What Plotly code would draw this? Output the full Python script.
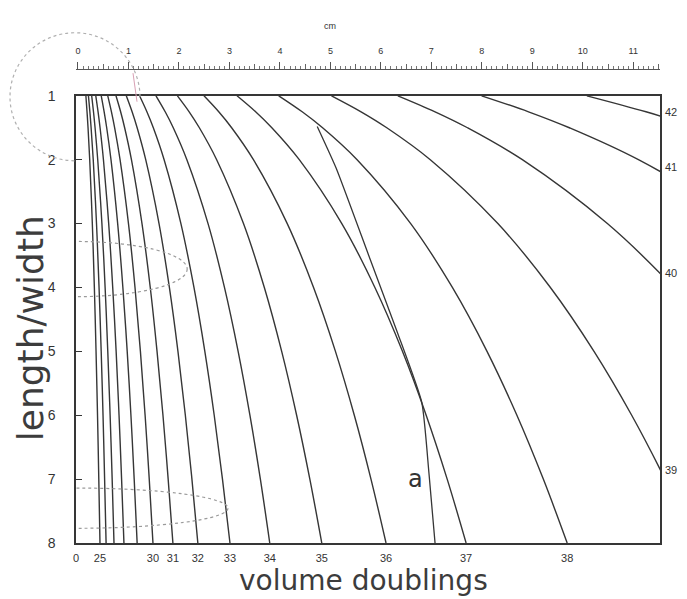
import plotly.graph_objects as go

# ---------------- data ----------------
# length/width ratio at which each curve is sampled
ratio_samples = [1, 1.25, 1.5, 2, 3, 4, 5, 6, 7, 8]

# iso-doubling curves: tumour length (cm) at each ratio sample
doublings = [25, 26, 27, 28, 29, 30, 31, 32, 33, 34, 35, 36, 37, 38, 39, 40, 41, 42]
curve_cm = [
    [0.194, 0.216, 0.236, 0.269, 0.320, 0.360, 0.393, 0.422, 0.447, 0.470],
    [0.244, 0.272, 0.296, 0.338, 0.402, 0.452, 0.494, 0.530, 0.561, 0.590],
    [0.308, 0.343, 0.374, 0.426, 0.508, 0.571, 0.623, 0.669, 0.709, 0.745],
    [0.388, 0.433, 0.472, 0.538, 0.641, 0.720, 0.787, 0.844, 0.894, 0.940],
    [0.495, 0.552, 0.602, 0.686, 0.817, 0.919, 1.004, 1.077, 1.141, 1.199],
    [0.623, 0.695, 0.758, 0.864, 1.029, 1.157, 1.263, 1.355, 1.436, 1.509],
    [0.784, 0.875, 0.954, 1.087, 1.294, 1.456, 1.589, 1.705, 1.807, 1.900],
    [0.986, 1.100, 1.199, 1.367, 1.628, 1.831, 1.999, 2.144, 2.273, 2.389],
    [1.246, 1.390, 1.516, 1.728, 2.057, 2.313, 2.526, 2.710, 2.872, 3.019],
    [1.568, 1.749, 1.907, 2.174, 2.589, 2.911, 3.179, 3.410, 3.615, 3.799],
    [1.989, 2.219, 2.419, 2.758, 3.284, 3.693, 4.033, 4.326, 4.585, 4.819],
    [2.509, 2.799, 3.052, 3.479, 4.142, 4.658, 5.087, 5.457, 5.784, 6.079],
    [3.157, 3.522, 3.840, 4.378, 5.212, 5.861, 6.401, 6.866, 7.278, 7.649],
    [3.975, 4.435, 4.835, 5.512, 6.563, 7.380, 8.059, 8.645, 9.163, 9.631],
    [5.010, 5.590, 6.094, 6.947, 8.272, 9.302, 10.157, 10.896, 11.549, 12.139],
    [6.311, 7.041, 7.677, 8.752, 10.419, 11.717, 12.795, 13.726, 14.548, 15.291],
    [7.953, 8.873, 9.674, 11.028, 13.130, 14.766, 16.124, 17.297, 18.333, 19.269],
    [10.017, 11.176, 12.185, 13.891, 16.538, 18.598, 20.309, 21.786, 23.091, 24.270],
]

# curves labelled along the bottom edge (value 0 sits on the left axis)
bottom_labels = [0, 25, 30, 31, 32, 33, 34, 35, 36, 37, 38]
# curves labelled along the right edge, with the ratio where they leave the frame
right_labels = [39, 40, 41, 42]
right_label_ratio = [6.86, 3.77, 2.12, 1.26]

# growth path "a"
a_line_cm = [4.73, 5.10, 5.74, 6.30, 6.78, 6.92, 7.04]
a_line_ratio = [1.48, 2.13, 3.5, 4.7, 5.8, 6.9, 8.0]

# ruler
ruler_ticks = list(range(0, 12))
y_ticks = [1, 2, 3, 4, 5, 6, 7, 8]

# ---------------- layout helpers ----------------
W, H = 687, 599
ML, MR, MT, MB = 70, 27, 10, 56
PW = W - ML - MR
PH = H - MT - MB


def px_x(px):
    return (px - ML) / PW


def px_y(py):
    return (H - MB - py) / PH


X_LEFT, X_RIGHT, Y_TOP, Y_BOT = 76, 660, 89, 543
CM_PX = 51.0
x_range = [0, (X_RIGHT - X_LEFT) / CM_PX]
ruler_range = [(ML - 72) / CM_PX, (X_RIGHT - 72) / CM_PX]

LINE = "#363636"
TXT = "#333333"

fig = go.Figure()

for n, xs in zip(doublings, curve_cm):
    fig.add_trace(go.Scatter(
        x=xs, y=ratio_samples, mode="lines",
        line=dict(color=LINE, width=1.4, shape="spline", smoothing=1.0),
        hoverinfo="skip", showlegend=False, name=str(n)))

fig.add_trace(go.Scatter(
    x=a_line_cm, y=a_line_ratio, mode="lines",
    line=dict(color=LINE, width=1.3, shape="spline", smoothing=0.5),
    hoverinfo="skip", showlegend=False, name="a"))

# dummy traces so the ruler axes and right labels are drawn
fig.add_trace(go.Scatter(x=[1], y=[1], xaxis="x2", yaxis="y", mode="markers",
                         marker=dict(opacity=0), hoverinfo="skip", showlegend=False))
fig.add_trace(go.Scatter(x=[1], y=[1], xaxis="x3", yaxis="y", mode="markers",
                         marker=dict(opacity=0), hoverinfo="skip", showlegend=False))
fig.add_trace(go.Scatter(x=[1], y=[1], xaxis="x", yaxis="y2", mode="markers",
                         marker=dict(opacity=0), hoverinfo="skip", showlegend=False))

# bottom tick positions = ends of labelled curves
end_cm = {n: xs[-1] for n, xs in zip(doublings, curve_cm)}
bottom_pos = [0 if n == 0 else end_cm[n] for n in bottom_labels]

ruler_pos = px_y(62)

fig.update_layout(
    width=W, height=H,
    margin=dict(l=ML, r=MR, t=MT, b=MB),
    paper_bgcolor="white", plot_bgcolor="white",
    showlegend=False,
    xaxis=dict(
        domain=[px_x(X_LEFT), 1], range=x_range, anchor="y",
        showgrid=False, zeroline=False,
        showline=True, linecolor=LINE, linewidth=1.5, mirror=True,
        tickmode="array", tickvals=bottom_pos, ticktext=[str(v) for v in bottom_labels],
        ticks="", tickfont=dict(size=11, color=TXT, family="Liberation Sans"),
        ticklabelstandoff=4,
    ),
    yaxis=dict(
        domain=[0, (Y_BOT - Y_TOP) / PH], range=[8, 1], anchor="x",
        showgrid=False, zeroline=False,
        showline=True, linecolor=LINE, linewidth=1.5, mirror=True,
        tickmode="array", tickvals=y_ticks, ticktext=[str(v) for v in y_ticks],
        ticks="inside", ticklen=6, tickwidth=1.2, tickcolor=LINE,
        tickfont=dict(size=14, color=TXT, family="Liberation Sans"),
        ticklabelstandoff=16,
    ),
    yaxis2=dict(
        overlaying="y", side="right", anchor="x", range=[8, 1],
        showgrid=False, zeroline=False, showline=False,
        tickmode="array", tickvals=right_label_ratio, ticktext=[str(v) for v in right_labels],
        ticks="", tickfont=dict(size=11, color=TXT, family="Liberation Sans"),
        ticklabelstandoff=4,
    ),
    xaxis2=dict(
        overlaying="x", anchor="free", position=ruler_pos, side="top",
        domain=[0, 1], range=ruler_range,
        showgrid=False, zeroline=False, showline=True, linecolor="#555", linewidth=1,
        tickmode="array", tickvals=ruler_ticks, ticktext=[str(v) for v in ruler_ticks],
        ticks="outside", ticklen=7, tickwidth=1, tickcolor="#555",
        minor=dict(dtick=0.1, tick0=0, ticks="outside", ticklen=3, tickcolor="#777", tickwidth=1),
        tickfont=dict(size=9, color=TXT, family="Liberation Sans"),
        ticklabelstandoff=5,
    ),
    xaxis3=dict(
        overlaying="x", anchor="free", position=ruler_pos, side="top",
        domain=[0, 1], range=ruler_range,
        showgrid=False, zeroline=False, showline=False, showticklabels=False,
        tickmode="linear", tick0=0.5, dtick=1,
        ticks="outside", ticklen=5, tickwidth=1, tickcolor="#666",
    ),
)

# dotted outline shapes (illustrations of tumour shape)
DOT = "#9a9a9a"
fig.add_shape(type="circle", xref="x", yref="y", x0=-2.18, x1=2.18, y0=3.28, y1=4.145,
              line=dict(color=DOT, width=1.2, dash="dot"))
fig.add_shape(type="circle", xref="x", yref="y", x0=-2.98, x1=2.98, y0=7.14, y1=7.77,
              line=dict(color=DOT, width=1.2, dash="dot"))

circle_pts = [(140, 90), (140, 54.1), (110.9, 25), (75, 25), (39.1, 25), (10, 54.1),
              (10, 90), (10, 125.9), (39.1, 155), (75, 155)]
cp = [(px_x(a), px_y(b)) for a, b in circle_pts]
path = "M {:.4f},{:.4f}".format(*cp[0])
for i in range(1, len(cp), 3):
    path += " C {:.4f},{:.4f} {:.4f},{:.4f} {:.4f},{:.4f}".format(*cp[i], *cp[i + 1], *cp[i + 2])
fig.add_shape(type="path", xref="paper", yref="paper", path=path,
              line=dict(color="#b0b0b0", width=1.2, dash="dot"))

fig.add_shape(type="line", xref="paper", yref="paper",
              x0=px_x(133), y0=px_y(66), x1=px_x(137), y1=px_y(95),
              line=dict(color="#d8a0b4", width=1))

# titles and labels
fig.add_annotation(text="volume doublings", xref="paper", yref="paper",
                   x=px_x(363), y=px_y(581), xanchor="center", yanchor="middle",
                   showarrow=False,
                   font=dict(size=28, color="#3c3c3c", family="DejaVu Sans"))
fig.add_annotation(text="length/width", xref="paper", yref="paper",
                   x=px_x(30), y=px_y(325), xanchor="center", yanchor="middle",
                   showarrow=False, textangle=-90,
                   font=dict(size=36, color="#3c3c3c", family="DejaVu Sans"))
fig.add_annotation(text="cm", xref="paper", yref="paper",
                   x=px_x(330), y=px_y(18), xanchor="center", yanchor="middle",
                   showarrow=False,
                   font=dict(size=9, color=TXT, family="Liberation Sans"))
fig.add_annotation(text="a", xref="paper", yref="paper",
                   x=px_x(415), y=px_y(478), xanchor="center", yanchor="middle",
                   showarrow=False,
                   font=dict(size=24, color="#333", family="DejaVu Sans"))

fig.write_html("out.html",
               config={"displayModeBar": False},
               post_script="document.body.style.margin='0px';document.body.style.overflow='hidden';")
